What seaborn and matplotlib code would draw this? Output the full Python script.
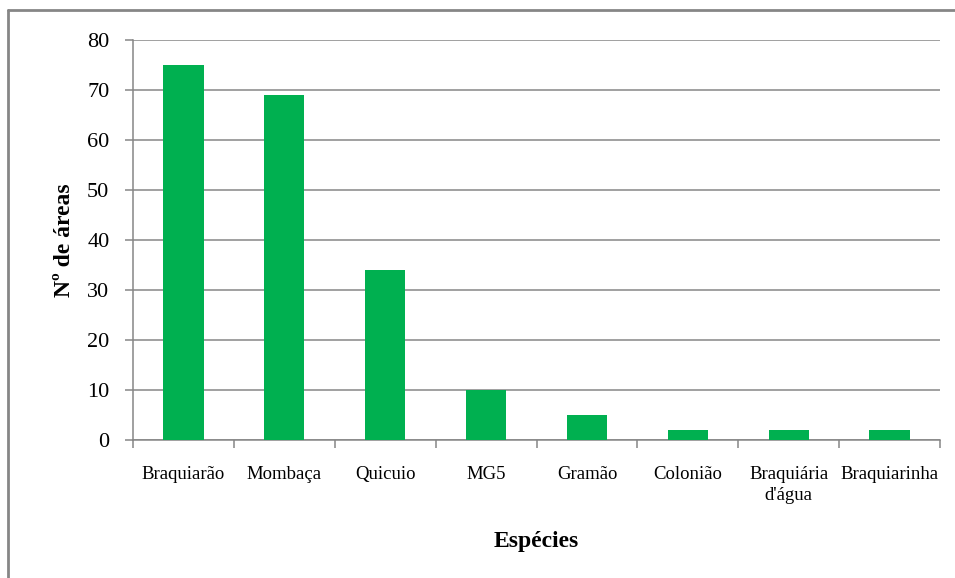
import matplotlib
matplotlib.use("Agg")
import matplotlib.pyplot as plt
from matplotlib.lines import Line2D
import seaborn as sns
import pandas as pd
import numpy as np

especies = ["Braquiarão", "Mombaça", "Quicuio", "MG5", "Gramão",
            "Colonião", "Braquiária\nd'água", "Braquiarinha"]
n_areas = [75, 69, 34, 10, 5, 2, 2, 2]
y_ticks = [0, 10, 20, 30, 40, 50, 60, 70, 80]

sns.set_theme(style="white")
plt.rcParams["font.family"] = ["Liberation Serif", "DejaVu Serif"]

df = pd.DataFrame({"Espécies": especies, "Nº de áreas": n_areas})

grid_color = "#868686"
fig = plt.figure(figsize=(9.55, 5.78), dpi=100)
ax = fig.add_axes([133 / 955, 1 - 440 / 578, (940 - 133) / 955, 400 / 578])

sns.barplot(data=df, x="Espécies", y="Nº de áreas", color="#00B050",
            width=0.4, saturation=1, linewidth=0, ax=ax, zorder=3)

ax.set_xlim(-0.5, len(especies) - 0.5)
ax.set_ylim(0, 80)
ax.set_yticks(y_ticks)
ax.yaxis.grid(True, color=grid_color, linewidth=1.1, zorder=0)
ax.set_axisbelow(True)

# category boundary ticks below the x axis
ax.set_xticks(np.arange(-0.5, len(especies)), minor=True)
ax.tick_params(axis="x", which="major", length=0, pad=19, labelsize=13.5,
               colors="black")
ax.tick_params(axis="x", which="minor", length=6, width=1.1, color=grid_color,
               direction="out", bottom=True)
ax.tick_params(axis="y", which="major", length=6, width=1.1, color=grid_color,
               direction="out", left=True, pad=11, labelsize=16,
               labelcolor="black")
for lab in ax.get_xticklabels():
    lab.set_horizontalalignment("center")
    lab.set_linespacing(1.25)

for side in ["top", "right"]:
    ax.spines[side].set_visible(False)
for side in ["left", "bottom"]:
    ax.spines[side].set_color(grid_color)
    ax.spines[side].set_linewidth(1.1)

ax.set_xlabel("Espécies", fontsize=17, fontweight="bold", labelpad=20,
              color="black")
ax.set_ylabel("Nº de áreas", fontsize=17, fontweight="bold", labelpad=9,
              color="black")

# chart frame
fig.add_artist(Line2D([8 / 955, 1.0], [1 - 10 / 578, 1 - 10 / 578],
                      transform=fig.transFigure, color=grid_color, linewidth=2))
fig.add_artist(Line2D([8 / 955, 8 / 955], [0.0, 1 - 10 / 578],
                      transform=fig.transFigure, color=grid_color, linewidth=2))

fig.savefig("out.png", dpi=100, facecolor="white")
